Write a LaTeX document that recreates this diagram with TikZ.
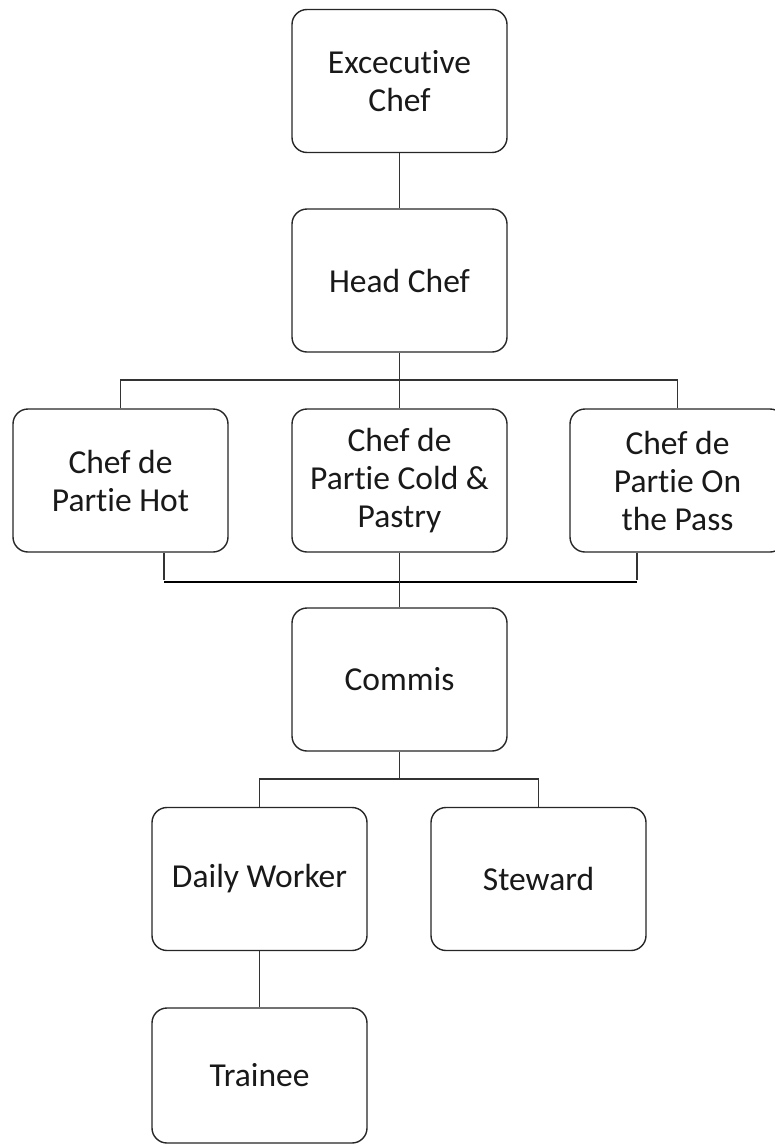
\documentclass[tikz,border=0pt]{standalone}
\usepackage{fontspec}
\setmainfont{Carlito}[Ligatures=CommonOff]
\begin{document}
\begin{tikzpicture}[x=1pt,y=-1pt,
  box/.style={draw=black!85, line width=1.4pt, rounded corners=15pt, fill=white,
    minimum width=215pt, minimum height=143pt, align=center, inner sep=0pt,
    text=black!90, font=\fontsize{33.5}{38}\selectfont},
  link/.style={draw=black!80, line width=1.4pt},
  heavy/.style={draw=black, line width=2.6pt}]
\useasboundingbox (0,0) rectangle (775,1146);
\clip (0,0) rectangle (775,1146);
% nodes
\node[box] (exec) at (399.5,81) {Excecutive\\Chef};
\node[box] (head) at (399.5,280.5) {Head Chef};
\node[box] (hot) at (120.5,480.5) {Chef de\\Partie Hot};
\node[box] (cold) at (399.5,480.5) {Chef de\\Partie Cold \&\\Pastry};
\node[box] (pass) at (677.5,480.5) {Chef de\\Partie On\\the Pass};
\node[box] (commis) at (399.5,679.5) {Commis};
\node[box] (daily) at (259.5,879) {Daily Worker};
\node[box] (steward) at (538.5,879) {Steward};
\node[box, minimum height=135pt] (trainee) at (259.5,1075.5) {Trainee};
% junctions
\coordinate (bus1) at (399.5,380);
\coordinate (tL) at (164,582);
\coordinate (tR) at (637,582);
\coordinate (bus3) at (399.5,779);
% connectors
\draw[link] (exec.south) -- (head.north);
\draw[link] (head.south) -- (bus1);
\draw[link] (hot.north) |- (bus1) -| (pass.north);
\draw[link] (bus1) -- (cold.north);
\draw[link] (hot.south -| tL) -- ([yshift=2pt]tL);
\draw[link] (pass.south -| tR) -- ([yshift=2pt]tR);
\draw[heavy] (tL) -- (tR);
\draw[link] (cold.south) -- (commis.north);
\draw[link] (commis.south) -- (bus3);
\draw[link] (daily.north) |- (bus3) -| (steward.north);
\draw[link] (daily.south) -- (trainee.north);
\end{tikzpicture}
\end{document}
